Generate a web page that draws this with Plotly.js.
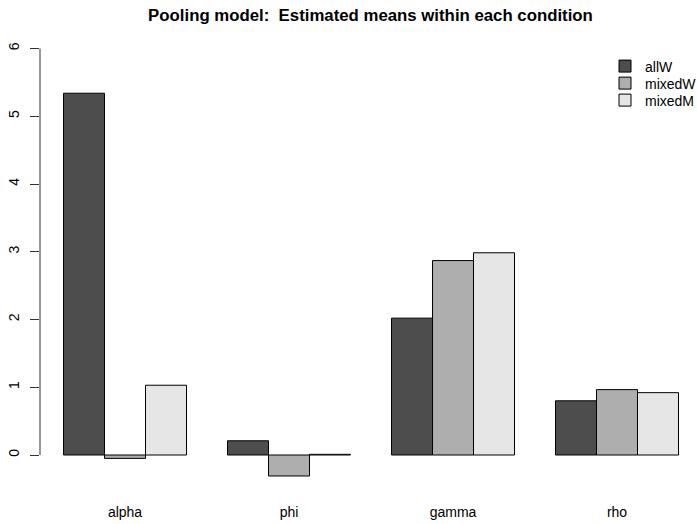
<!DOCTYPE html>
<html>
<head>
<meta charset="utf-8">
<script src="https://cdn.plot.ly/plotly-3.0.1.min.js"></script>
<style>html,body{margin:0;padding:0;background:#fff;}#chart{width:697px;height:524px;}</style>
</head>
<body>
<div id="chart"></div>
<script>
const categories = ["alpha", "phi", "gamma", "rho"];
const seriesNames = ["allW", "mixedW", "mixedM"];
const allW   = [5.34, 0.21, 2.02, 0.80];
const mixedW = [-0.05, -0.31, 2.87, 0.965];
const mixedM = [1.03, 0.01, 2.985, 0.92];
const yTicks = [0, 1, 2, 3, 4, 5, 6];
const colors = ["#4D4D4D", "#AEAEAE", "#E6E6E6"];

const legendIds = ["legend", "legend2", "legend3"];
const legendY = [66.5, 83.5, 100.5];

const values = [allW, mixedW, mixedM];
const traces = values.map((v, i) => ({
  type: "bar",
  name: seriesNames[i],
  x: categories,
  y: v,
  legend: legendIds[i],
  marker: {color: colors[i], line: {color: "#000", width: 1}},
  hoverinfo: "none"
}));

const font = "'Liberation Sans', Arial, Helvetica, sans-serif";
const W = 697, H = 524;
const plotLeft = 40, plotTop = 30, plotBottom = 498, zeroPx = 455, sixPx = 48.5;
const pxPerUnit = (zeroPx - sixPx) / 6;
const plotW = W - plotLeft, plotH = plotBottom - plotTop;

const layout = {
  width: W, height: H,
  margin: {l: plotLeft, r: 0, t: plotTop, b: H - plotBottom, autoexpand: false},
  paper_bgcolor: "#fff", plot_bgcolor: "#fff",
  barmode: "group", bargap: 0.25, bargroupgap: 0,
  font: {family: font, size: 14, color: "#000"},
  title: {
    text: "<b>Pooling model:&nbsp; Estimated means within each condition</b>",
    font: {family: font, size: 16.8, color: "#000"},
    xref: "container", x: 370.5/W, xanchor: "center",
    yref: "container", y: 1 - 15/H, yanchor: "middle"
  },
  xaxis: {
    type: "category",
    range: [(plotLeft - 125) / 164, (W - 125) / 164],
    showline: false, showgrid: false, zeroline: false, ticks: "",
    ticklabelstandoff: 4,
    tickfont: {family: font, size: 14, color: "#000"},
    fixedrange: true
  },
  yaxis: {
    range: [-(plotBottom - zeroPx) / pxPerUnit, 6 + (sixPx - plotTop) / pxPerUnit],
    tickvals: yTicks,
    ticktext: yTicks.map(String),
    ticks: "outside", ticklen: 9, tickwidth: 1, tickcolor: "#333",
    tickangle: -90,
    ticklabelstandoff: 5,
    showline: false, showgrid: false, zeroline: false,
    tickfont: {family: font, size: 14, color: "#000"},
    fixedrange: true
  },
  shapes: [{
    type: "line", xref: "paper", yref: "y",
    x0: 0, x1: 0, y0: yTicks[0], y1: yTicks[yTicks.length - 1],
    line: {color: "#333", width: 1}
  }],
  showlegend: true
};

legendIds.forEach((id, i) => {
  layout[id] = {
    xref: "paper", x: (605 - plotLeft) / plotW, xanchor: "left",
    yref: "paper", y: 1 - (legendY[i] - plotTop) / plotH, yanchor: "middle",
    font: {family: font, size: 14, color: "#000"},
    bgcolor: "rgba(0,0,0,0)", borderwidth: 0
  };
});

Plotly.newPlot("chart", traces, layout, {displayModeBar: false, staticPlot: true});
</script>
</body>
</html>
